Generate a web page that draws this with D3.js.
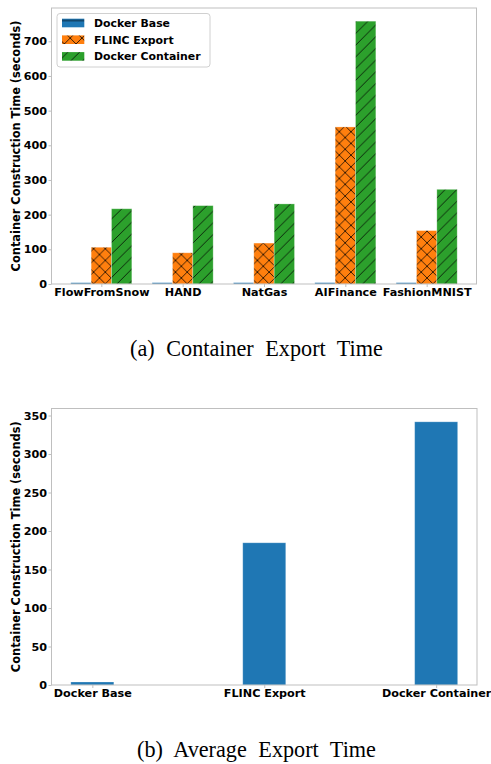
<!DOCTYPE html>
<html>
<head>
<meta charset="utf-8">
<script src="https://cdn.jsdelivr.net/npm/d3@7"></script>
<style>
  html, body { margin: 0; padding: 0; background: #fff; }
  svg { display: block; }
  .tick text { font-family: "DejaVu Sans", sans-serif; font-weight: bold; font-size: 11.2px; fill: #000; }
</style>
</head>
<body>
<svg id="chart" width="491" height="764"></svg>
<script>
// ---- data ----
const categories = ["FlowFromSnow", "HAND", "NatGas", "AIFinance", "FashionMNIST"];
const seriesNames = ["Docker Base", "FLINC Export", "Docker Container"];
const dockerBase = [3.8, 3.9, 3.9, 4.0, 3.9];
const flincExport = [106, 90, 118, 453, 154];
const dockerContainer = [217, 226, 231, 758, 273];
const topYTicks = [0, 100, 200, 300, 400, 500, 600, 700];

const avgCategories = ["Docker Base", "FLINC Export", "Docker Container"];
const avgValues = [3.9, 184.7, 341.8];
const bottomYTicks = [0, 50, 100, 150, 200, 250, 300, 350];

const yLabel = "Container Construction Time (seconds)";
const captionA = "(a) Container Export Time";
const captionB = "(b) Average Export Time";

// ---- styles ----
const colors = ["#1f77b4", "#ff7f0e", "#2ca02c"];
const hatches = ["h", "x", "d"];
const spineColor = "#bfbfbf";

const svg = d3.select("#chart");
const defs = svg.append("defs");
const P = 11.7;
function makePattern(id, color, kind) {
  const p = defs.append("pattern").attr("id", id).attr("patternUnits", "userSpaceOnUse")
    .attr("width", P).attr("height", P).attr("x", 0).attr("y", 3);
  p.append("rect").attr("width", P).attr("height", P).attr("fill", color);
  const ln = (x1, y1, x2, y2) => p.append("line").attr("x1", x1).attr("y1", y1).attr("x2", x2).attr("y2", y2)
    .attr("stroke", "#000").attr("stroke-width", 0.9).attr("stroke-opacity", 0.85);
  if (kind === "h") { ln(0, P / 2, P, P / 2); }
  if (kind === "x" || kind === "d") { ln(-1, P + 1, P + 1, -1); ln(-P/2 - 1, P/2 + 1, P/2 + 1, -P/2 - 1); ln(P/2 - 1, 3*P/2 + 1, 3*P/2 + 1, P/2 - 1); }
  if (kind === "x") { ln(-1, -1, P + 1, P + 1); ln(-P/2 - 1, P/2 - 1, P/2 + 1, 3*P/2 + 1); ln(P/2 - 1, -P/2 - 1, 3*P/2 + 1, P/2 + 1); }
}
colors.forEach((c, i) => makePattern("pat" + i, c, hatches[i]));

function frame(g, x0, x1, y0, y1) {
  g.append("rect").attr("x", x0).attr("y", y0).attr("width", x1 - x0).attr("height", y1 - y0)
    .attr("fill", "none").attr("stroke", spineColor).attr("stroke-width", 1);
}
function styleAxis(sel) {
  sel.select(".domain").remove();
  sel.selectAll(".tick line").attr("stroke", spineColor).attr("stroke-width", 1);
}
function caption(text, yPos) {
  svg.append("text").attr("x", 256.5).attr("y", yPos).attr("text-anchor", "middle")
    .attr("font-family", "Liberation Serif").attr("font-size", 22.2).attr("word-spacing", "6px")
    .attr("fill", "#000").text(text);
}

// ---- top chart ----
{
  const L = 51.5, R = 476.5, T = 8, B = 284;
  const x = d3.scaleLinear().domain([-0.6125, 4.6125]).range([L, R]);
  const y = d3.scaleLinear().domain([0, 796]).range([B, T]);
  const bw = 0.25;
  const series = [dockerBase, flincExport, dockerContainer];
  const g = svg.append("g");
  series.forEach((vals, si) => {
    g.append("g").selectAll("rect").data(vals).join("rect")
      .attr("x", (d, i) => x(i + (si - 1) * bw - bw / 2))
      .attr("width", x(bw) - x(0))
      .attr("y", d => y(d))
      .attr("height", d => y(0) - y(d))
      .attr("fill", `url(#pat${si})`)
      .attr("stroke", "#ffffff").attr("stroke-opacity", 0.35).attr("stroke-width", 0.8);
  });
  const ya = g.append("g").attr("transform", `translate(${L},0)`)
    .call(d3.axisLeft(y).tickValues(topYTicks).tickSize(3).tickPadding(1.5));
  styleAxis(ya);
  const xa = g.append("g").attr("transform", `translate(0,${B})`)
    .call(d3.axisBottom(x).tickValues(d3.range(categories.length)).tickFormat(i => categories[i]).tickSize(3).tickPadding(1.5));
  styleAxis(xa);
  frame(g, L, R, T, B);

  g.append("text").attr("transform", `translate(19.5,${(T + B) / 2}) rotate(-90)`)
    .attr("text-anchor", "middle").attr("font-family", "DejaVu Sans").attr("font-weight", "bold")
    .attr("font-size", 11.4).attr("fill", "#000").text(yLabel);

  // legend
  const lg = g.append("g");
  lg.append("rect").attr("x", 57).attr("y", 13.5).attr("width", 153).attr("height", 53.5).attr("rx", 3)
    .attr("fill", "#fff").attr("fill-opacity", 0.8).attr("stroke", "#d0d0d0").attr("stroke-width", 1);
  const ly = [23, 39.7, 56.4];
  seriesNames.forEach((name, i) => {
    lg.append("rect").attr("x", 62).attr("y", ly[i] - 4.3).attr("width", 22.3).attr("height", 8.6)
      .attr("fill", `url(#pat${i})`);
    lg.append("text").attr("x", 94).attr("y", ly[i]).attr("dy", "0.36em")
      .attr("font-family", "DejaVu Sans").attr("font-weight", "bold").attr("font-size", 10.9)
      .attr("fill", "#000").text(name);
  });

  caption(captionA, 356);
}

// ---- bottom chart ----
{
  const L = 51.5, R = 477, T = 408.5, B = 685;
  const x = d3.scaleLinear().domain([-0.2375, 2.2375]).range([L, R]);
  const y = d3.scaleLinear().domain([0, 359.1]).range([B, T]);
  const bw = 0.25;
  const g = svg.append("g");
  g.append("g").selectAll("rect").data(avgValues).join("rect")
    .attr("x", (d, i) => x(i - bw / 2))
    .attr("width", x(bw) - x(0))
    .attr("y", d => y(d))
    .attr("height", d => y(0) - y(d))
    .attr("fill", colors[0])
    .attr("stroke", "#ffffff").attr("stroke-opacity", 0.3).attr("stroke-width", 0.8);
  const ya = g.append("g").attr("transform", `translate(${L},0)`)
    .call(d3.axisLeft(y).tickValues(bottomYTicks).tickSize(3).tickPadding(1.5));
  styleAxis(ya);
  const xa = g.append("g").attr("transform", `translate(0,${B})`)
    .call(d3.axisBottom(x).tickValues(d3.range(avgCategories.length)).tickFormat(i => avgCategories[i]).tickSize(3).tickPadding(1.5));
  styleAxis(xa);
  frame(g, L, R, T, B);

  g.append("text").attr("transform", `translate(19.5,${(T + B) / 2}) rotate(-90)`)
    .attr("text-anchor", "middle").attr("font-family", "DejaVu Sans").attr("font-weight", "bold")
    .attr("font-size", 11.4).attr("fill", "#000").text(yLabel);

  caption(captionB, 757);
}
</script>
</body>
</html>
